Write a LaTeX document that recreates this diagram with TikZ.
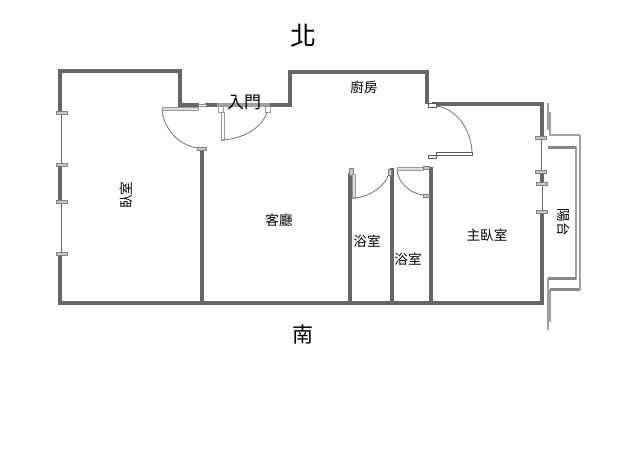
\documentclass[tikz,border=0pt]{standalone}
\usepackage{fontspec}
\setmainfont{Noto Sans CJK TC}

\definecolor{wallgray}{HTML}{666666}
\definecolor{capgray}{HTML}{C8C8C8}
\definecolor{railgray}{HTML}{A0A0A0}

\tikzset{
  wall/.style = {draw = wallgray, line width = 4.1pt, line cap = rect, line join = miter},
  rail/.style = {draw = railgray, line width = 1.3pt},
  railthick/.style = {draw = railgray!60!wallgray, line width = 2.6pt},
  winline/.style = {draw = wallgray, line width = 1pt},
  swing/.style = {draw = black!55, line width = .8pt},
  capbox/.style = {draw = black!50, fill = capgray, line width = .7pt},
  openbox/.style = {draw = black!65, fill = white, line width = .9pt},
  leafbox/.style = {draw = black!40, fill = black!12, line width = .8pt},
  room/.style = {font = \fontsize{13.6}{14}\selectfont, inner sep = 0pt}
}

\begin{document}
\begin{tikzpicture}[x = 1pt, y = -1pt, line join = round]
  \useasboundingbox (0, 0) rectangle (638, 460);

  % outer walls
  \draw[wall] (60, 111) -- (60, 71) -- (180, 71) -- (180, 105) -- (197, 105);
  \draw[wall] (60, 165) -- (60, 201);
  \draw[wall] (60, 255) -- (60, 303) -- (542, 303) -- (542, 212);
  \draw[wall] (542, 172) -- (542, 183);
  \draw[wall] (542, 136) -- (542, 104) -- (434, 104);
  \draw[wall] (427, 102) -- (427, 72) -- (290, 72) -- (290, 105) -- (271, 105);
  \draw[wall] (207, 105) -- (216, 105);

  % inner walls
  \draw[wall] (202, 151) -- (202, 301);
  \draw[wall] (350, 175) -- (350, 301);
  \draw[wall] (392, 170) -- (392, 301);
  \draw[wall] (431, 169) -- (431, 301);

  % windows
  \draw[winline] (61, 112) -- (61, 164);
  \draw[winline] (61, 202) -- (61, 254);
  \draw[winline] (541, 137) -- (541, 171);
  \draw[winline] (542, 183) -- (542, 211);
  \draw[capbox] (56, 111) rectangle (67, 114);
  \draw[capbox] (56, 163) rectangle (67, 166);
  \draw[capbox] (56, 200) rectangle (67, 203);
  \draw[capbox] (56, 252) rectangle (67, 255);
  \draw[capbox] (535, 136) rectangle (546, 139);
  \draw[capbox] (535, 170) rectangle (546, 173);
  \draw[capbox] (536, 182) rectangle (547, 185);
  \draw[capbox] (536, 210) rectangle (547, 213);

  % door beside the entrance
  \draw[leafbox] (162, 107) rectangle (198, 110);
  \draw[openbox, draw = black!45] (198, 104) rectangle (206, 106.5);
  \draw[capbox] (197, 147) rectangle (206, 150);
  \draw[swing] (162, 110) .. controls (164, 130) and (180, 146) .. (198, 148);

  % entrance
  \draw[rail] (217, 104) -- (270, 104);
  \draw[rail] (217, 106) -- (270, 106);
  \draw[leafbox, fill = white] (218, 106) rectangle (223, 112);
  \draw[leafbox, fill = white] (265, 106) rectangle (270, 112);
  \draw[leafbox, fill = white] (221, 112) rectangle (224, 140);
  \draw[swing] (222, 140) .. controls (243, 139) and (262, 128) .. (267, 112);

  % kitchen door
  \draw[openbox] (428, 103) rectangle (436, 107);
  \draw[swing] (436, 106) .. controls (455, 108) and (471, 128) .. (472, 152);
  \draw[openbox] (436, 152) rectangle (472, 155.5);
  \draw[openbox] (428, 155) rectangle (436, 158);

  % bathroom doors
  \draw[capbox] (349, 168) rectangle (353, 175);
  \draw[leafbox] (352, 174) rectangle (355, 198);
  \draw[swing] (353, 198) .. controls (367, 198) and (384, 188) .. (389, 174);
  \draw[capbox] (388, 169) rectangle (391, 175);
  \draw[leafbox] (397, 167) rectangle (423, 170);
  \draw[capbox] (423, 166) rectangle (429, 169);
  \draw[swing] (397, 170) .. controls (398, 182) and (409, 193) .. (423, 195);
  \draw[capbox] (423, 194) rectangle (429, 197);

  % balcony
  \draw[rail] (548, 103) -- (548, 130);
  \draw[rail] (550, 112) -- (550, 135) -- (580, 135) -- (580, 290) -- (550, 290) -- (550, 322);
  \draw[rail] (548, 147) -- (576, 147) -- (576, 279) -- (548, 279) -- (548, 330);
  \draw[railthick] (548, 147.5) -- (576, 147.5);
  \draw[railthick] (548, 278.5) -- (576, 278.5);
  \draw[railthick] (550, 289.5) -- (579, 289.5);

  % labels
  \node[inner sep = 0pt, font = \fontsize{26}{26}\selectfont] (north) at (303, 36) {北};
  \node[inner sep = 0pt, font = \fontsize{21}{21}\selectfont] (south) at (303, 335) {南};
  \node[inner sep = 0pt, font = \fontsize{17}{17}\selectfont] (entry) at (244, 102) {入門};
  \node[room] (kitchen) at (364, 87) {廚房};
  \node[room] (living) at (279, 220) {客廳};
  \node[room] (bathA) at (367, 241) {浴室};
  \node[room] (bathB) at (408, 259) {浴室};
  \node[room] (master) at (487, 235) {主臥室};
  \node[room, rotate = 90] (bedroom) at (126, 195) {臥室};
  \node[room, rotate = -90] (balcony) at (564, 222) {陽台};
\end{tikzpicture}
\end{document}
